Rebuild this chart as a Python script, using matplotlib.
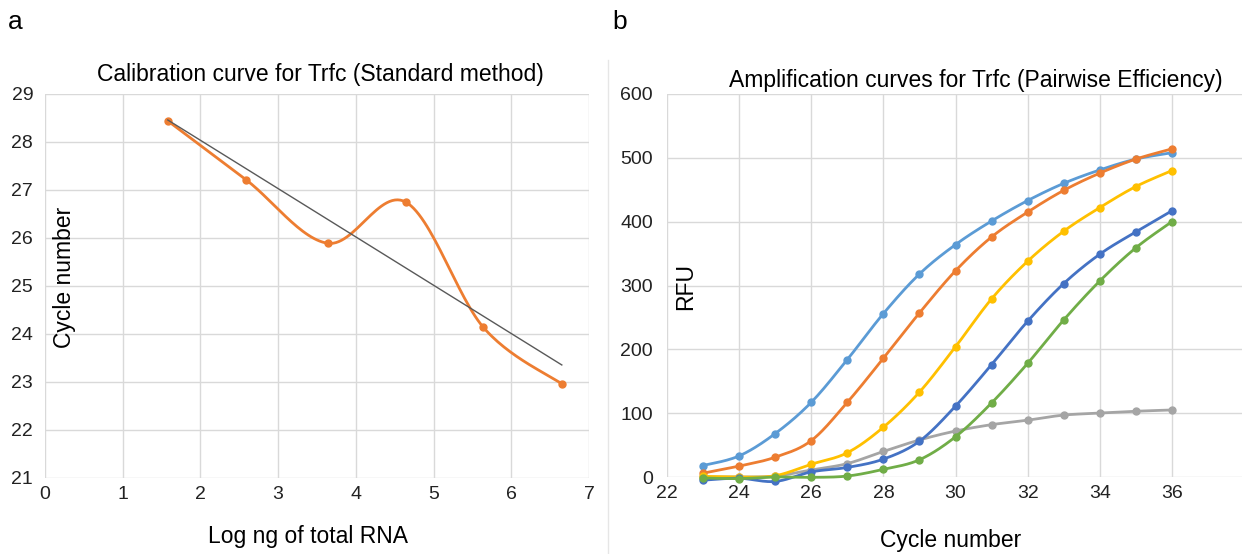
""" plot.py
qPCR calibration curve and amplification curves for Trfc
"""

import numpy as np
import matplotlib
matplotlib.use('Agg')
import matplotlib.pyplot as plt

plt.rcParams['font.family'] = ['Liberation Sans', 'DejaVu Sans']

# panel a: calibration curve
log_rna = [1.58, 2.59, 3.64, 4.64, 5.64, 6.65]
ct_values = [28.44, 27.21, 25.89, 26.75, 24.14, 22.96]

# panel b: amplification curves (RFU per cycle)
cycles = list(range(23, 37))
rfu_lightblue = [18, 33, 68, 117, 184, 256, 318, 364, 401, 433, 460, 481, 498, 508]
rfu_orange = [6, 17, 31, 57, 117, 186, 257, 323, 376, 415, 449, 476, 498, 514]
rfu_gray = [0, 0, 1.5, 11, 21, 40, 58, 72, 82, 89, 97, 100, 103, 105]
rfu_yellow = [1, 0, 2, 20, 38, 78, 133, 204, 279, 338, 385, 422, 455, 480]
rfu_darkblue = [-5, -2, -7, 8, 15, 28, 56, 111, 176, 244, 303, 349, 384, 417]
rfu_green = [-1.5, -2.5, 0, -0.5, 1.5, 12, 27, 63, 116, 178, 246, 307, 359, 400]

series_b = [
    (rfu_lightblue, '#5B9BD5'),
    (rfu_orange, '#ED7D31'),
    (rfu_gray, '#A5A5A5'),
    (rfu_yellow, '#FFC000'),
    (rfu_darkblue, '#4472C4'),
    (rfu_green, '#70AD47'),
]

GRID = '#D9D9D9'


def smooth(x, y, n=30):
    # Excel-like smoothed line: cubic bezier through the points
    x = np.asarray(x, float)
    y = np.asarray(y, float)
    pts = np.column_stack([x, y])
    ext = np.vstack([pts[0], pts, pts[-1]])
    t = np.linspace(0, 1, n)[:, None]
    out = []
    for i in range(len(pts) - 1):
        p0, p1, p2, p3 = ext[i], ext[i + 1], ext[i + 2], ext[i + 3]
        c1 = p1 + (p2 - p0) / 6
        c2 = p2 - (p3 - p1) / 6
        seg = ((1 - t) ** 3) * p1 + 3 * ((1 - t) ** 2) * t * c1 + 3 * (1 - t) * t ** 2 * c2 + t ** 3 * p2
        out.append(seg if i == 0 else seg[1:])
    out = np.vstack(out)
    return out[:, 0], out[:, 1]


def style_axes(ax):
    for s in ax.spines.values():
        s.set_visible(False)
    ax.grid(True, color=GRID, lw=1)
    ax.set_axisbelow(True)
    ax.tick_params(length=0, labelsize=14, colors='#222222')


fig = plt.figure(figsize=(12.42, 5.54), dpi=100)

# panel a
ax1 = fig.add_axes([45 / 1242, 76 / 554, 544 / 1242, 384 / 554])
style_axes(ax1)
ax1.set_xlim(0, 7)
ax1.set_ylim(21, 29)
ax1.set_xticks(range(0, 8))
ax1.set_yticks(range(21, 30))
ax1.tick_params(axis='y', pad=8.5)
ax1.tick_params(axis='x', pad=6)

xs, ys = smooth(log_rna, ct_values)
ax1.plot(xs, ys, color='#ED7D31', lw=2)
ax1.plot(log_rna, ct_values, 'o', color='#ED7D31', ms=5)

slope, intercept = np.polyfit(log_rna, ct_values, 1)
xfit = np.array([log_rna[0], log_rna[-1]])
ax1.plot(xfit, slope * xfit + intercept, color='#595959', lw=1)

fig.text(320 / 1242, 1 - 75 / 554, 'Calibration curve for Trfc (Standard method)',
         ha='center', va='center', fontsize=16.5)
fig.text(65 / 1242, 1 - 277 / 554, 'Cycle number', rotation=90,
         ha='center', va='center', fontsize=16.5)
fig.text(308 / 1242, 1 - 537 / 554, 'Log ng of total RNA',
         ha='center', va='center', fontsize=16.5)

# panel b
ax2 = fig.add_axes([667 / 1242, 77 / 554, 577 / 1242, 383 / 554])
style_axes(ax2)
ax2.set_xlim(22, 38)
ax2.set_ylim(0, 600)
ax2.set_xticks(range(22, 37, 2))
ax2.set_yticks(range(0, 601, 100))
ax2.tick_params(axis='y', pad=10)
ax2.tick_params(axis='x', pad=6)
for vals, col in series_b:
    xs, ys = smooth(cycles, vals)
    ax2.plot(xs, ys, color=col, lw=2, clip_on=False)
    ax2.plot(cycles, vals, 'o', color=col, ms=5, clip_on=False)

fig.text(976 / 1242, 1 - 80 / 554, 'Amplification curves for Trfc (Pairwise Efficiency)',
         ha='center', va='center', fontsize=16.5)
fig.text(686 / 1242, 1 - 287 / 554, 'RFU', rotation=90,
         ha='center', va='center', fontsize=16.5)
fig.text(951 / 1242, 1 - 541 / 554, 'Cycle number',
         ha='center', va='center', fontsize=16.5)

# panel letters and separator
fig.text(15 / 1242, 1 - 22 / 554, 'a', ha='center', va='center', fontsize=19)
fig.text(620 / 1242, 1 - 22 / 554, 'b', ha='center', va='center', fontsize=19)
fig.add_artist(plt.Line2D([608 / 1242, 608 / 1242], [0, 1 - 60 / 554],
                          color='#E6E6E6', lw=1, transform=fig.transFigure))

fig.savefig('out.png', dpi=100, facecolor='white')
